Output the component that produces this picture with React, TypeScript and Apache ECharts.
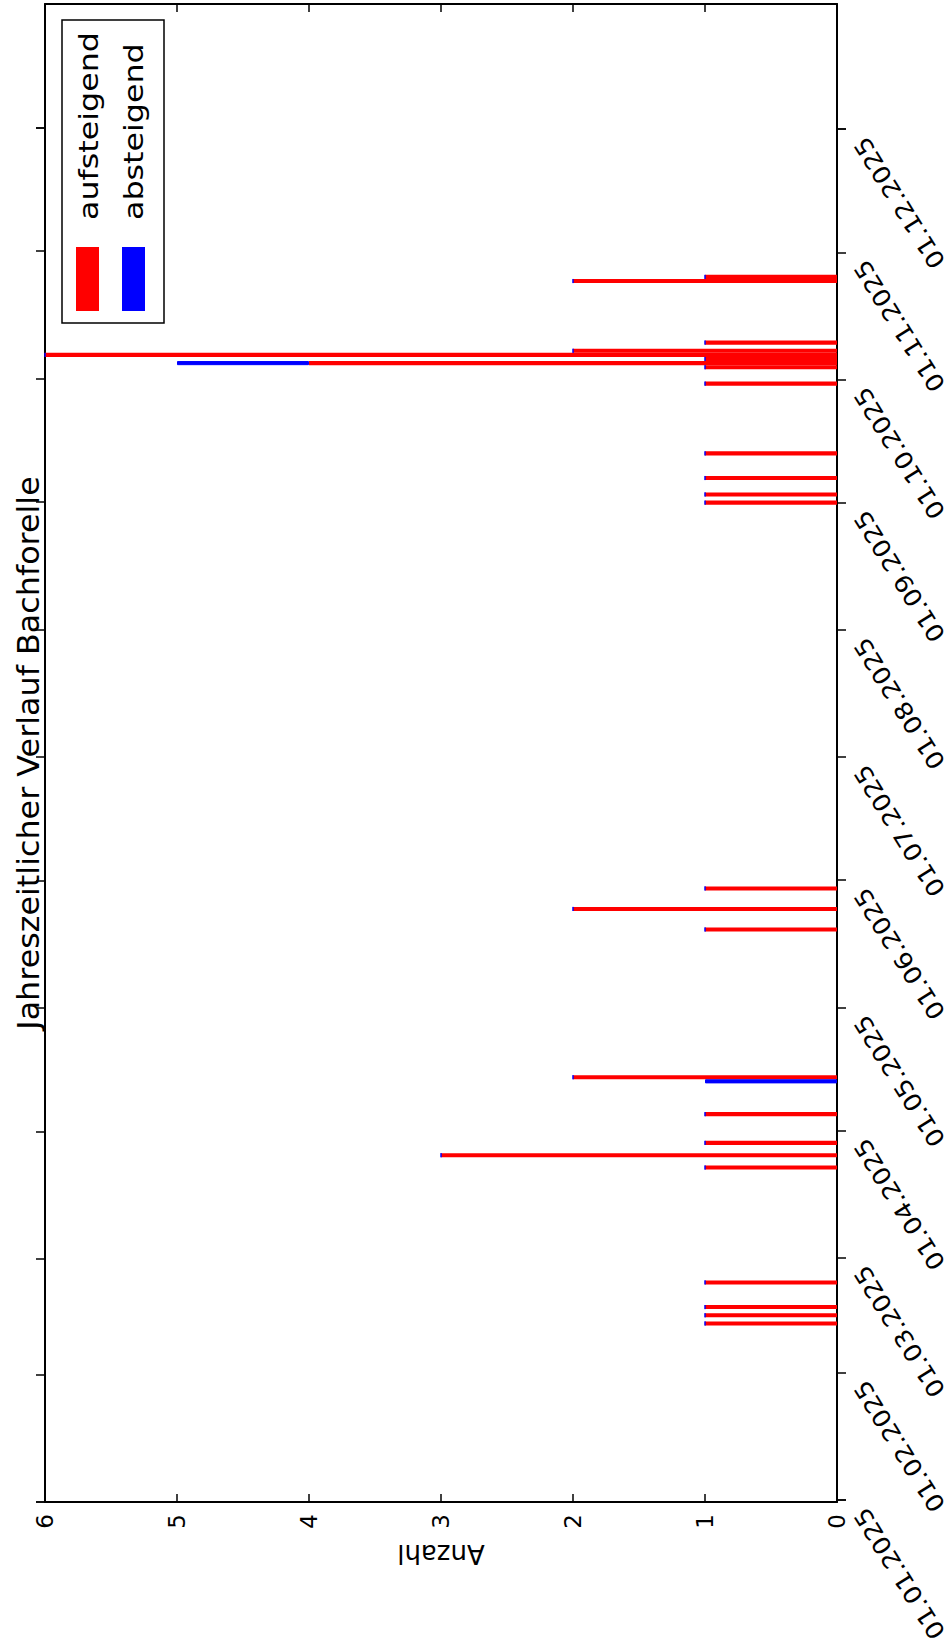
import React, { useEffect, useRef } from 'react';
import * as echarts from 'echarts';

const FONT = 'DejaVu Sans';

// Dates of the observations (one bar per day)
const dates = [
  '2025-02-13', '2025-02-15', '2025-02-17', '2025-02-23',
  '2025-03-23', '2025-03-26', '2025-03-29', '2025-04-05', '2025-04-13', '2025-04-14',
  '2025-05-20', '2025-05-25', '2025-05-30',
  '2025-09-01', '2025-09-03', '2025-09-07', '2025-09-13', '2025-09-30',
  '2025-10-04', '2025-10-05', '2025-10-06', '2025-10-07', '2025-10-08', '2025-10-10',
  '2025-10-25', '2025-10-26',
];
const aufsteigend = [1, 1, 1, 1, 1, 3, 1, 1, 0, 2, 1, 2, 1, 1, 1, 1, 1, 1, 1, 4, 1, 6, 2, 1, 2, 1];
const absteigend = [0, 0, 0, 0, 0, 0, 0, 0, 1, 0, 0, 0, 0, 0, 0, 0, 0, 0, 0, 1, 0, 0, 0, 0, 0, 0];

const monthTicks = [
  '2025-01-01', '2025-02-01', '2025-03-01', '2025-04-01', '2025-05-01', '2025-06-01',
  '2025-07-01', '2025-08-01', '2025-09-01', '2025-10-01', '2025-11-01', '2025-12-01',
];
const axisStart = '2025-01-01';
const axisEnd = '2025-12-31';
const countMin = 0;
const countMax = 6;
const countStep = 1;

const titleText = 'Jahreszeitlicher Verlauf Bachforelle';
const axisName = 'Anzahl';
const legendNames = ['aufsteigend', 'absteigend'];
const colors = ['#ff0000', '#0000ff'];

function ts(s: string): number {
  const [y, m, d] = s.split('-').map(Number);
  return new Date(y, m - 1, d).getTime();
}
function fmt(s: string): string {
  const [y, m, d] = s.split('-');
  return `${d}.${m}.${y}`;
}

export default function App() {
  const ref = useRef<HTMLDivElement>(null);
  useEffect(() => {
    const chart = echarts.init(ref.current!, null, { renderer: 'svg' });
    const lineStyle = { color: '#000', width: 2 };
    const tickStyle = { color: '#000', width: 1.5 };
    const monthTs = monthTicks.map(ts);
    const valueAxisBase = {
      type: 'value',
      inverse: true,
      min: countMin,
      max: countMax,
      interval: countStep,
      splitLine: { show: false },
      axisLine: { show: true, onZero: false, lineStyle },
      axisTick: { show: true, inside: true, length: 8, lineStyle: tickStyle },
    };
    const timeAxisBase = {
      type: 'time',
      min: ts(axisStart),
      max: ts(axisEnd),
      minInterval: 28 * 86400000,
      maxInterval: 31 * 86400000,
      splitLine: { show: false },
      axisLine: { show: true, onZero: false, lineStyle },
      axisTick: { show: true, inside: false, length: 9, lineStyle: tickStyle, customValues: monthTs },
      axisLabel: { show: false },
    };
    const option: any = {
      animation: false,
      backgroundColor: '#fff',
      textStyle: { fontFamily: FONT },
      grid: { left: 45, right: 115, top: 4, bottom: 147, containLabel: false, outerBoundsMode: 'none' },
      xAxis: [
        {
          ...valueAxisBase,
          position: 'bottom',
          axisLabel: { show: true, rotate: 90, fontSize: 23, color: '#000', fontFamily: FONT, margin: 12 },
        },
        {
          ...valueAxisBase,
          position: 'top',
          axisLabel: { show: false },
        },
      ],
      yAxis: [
        { ...timeAxisBase, position: 'right' },
        { ...timeAxisBase, position: 'left' },
      ],
      series: [
        {
          type: 'bar',
          name: legendNames[0],
          stack: 'total',
          xAxisIndex: 0,
          yAxisIndex: 0,
          barWidth: 4.1,
          itemStyle: { color: colors[0] },
          data: dates.map((d, i) => [aufsteigend[i], ts(d)]),
        },
        {
          type: 'bar',
          name: legendNames[1],
          stack: 'total',
          xAxisIndex: 0,
          yAxisIndex: 0,
          barWidth: 4.1,
          itemStyle: { color: colors[1], borderColor: colors[1], borderWidth: 1 },
          data: dates.map((d, i) => [absteigend[i], ts(d)]),
        },
      ],
    };
    chart.setOption(option);

    const xZero = chart.convertToPixel({ xAxisIndex: 0 }, countMin) as number;
    const xFull = chart.convertToPixel({ xAxisIndex: 0 }, countMax) as number;
    const yTop = chart.convertToPixel({ yAxisIndex: 0 }, ts(axisEnd)) as number;
    const yBottom = chart.convertToPixel({ yAxisIndex: 0 }, ts(axisStart)) as number;

    const dateLabels = monthTicks.map((m) => {
      const y = chart.convertToPixel({ yAxisIndex: 0 }, ts(m)) as number;
      return {
        type: 'text',
        x: xZero + 23,
        y: y + 10,
        rotation: (122 * Math.PI) / 180,
        scaleX: 1.09,
        style: {
          text: fmt(m),
          fontSize: 24,
          fontFamily: FONT,
          fill: '#000',
          align: 'right',
          verticalAlign: 'middle',
        },
      };
    });

    const graphics: any[] = [
      {
        type: 'text',
        x: 28,
        y: (yTop + yBottom) / 2,
        rotation: Math.PI / 2,
        scaleX: 1.06,
        style: { text: titleText, fontSize: 30, fontFamily: FONT, fill: '#000', align: 'center', verticalAlign: 'middle' },
      },
      {
        type: 'text',
        x: (xZero + xFull) / 2,
        y: 1554,
        rotation: Math.PI,
        style: { text: axisName, fontSize: 26, fontFamily: FONT, fill: '#000', align: 'center', verticalAlign: 'middle' },
      },
      {
        type: 'rect',
        shape: { x: 62, y: 20, width: 102, height: 303 },
        style: { fill: '#fff', stroke: '#000', lineWidth: 1.5 },
        z: 10,
      },
      { type: 'rect', shape: { x: 76, y: 247, width: 23, height: 64 }, style: { fill: colors[0] }, z: 11 },
      { type: 'rect', shape: { x: 122, y: 247, width: 23, height: 64 }, style: { fill: colors[1] }, z: 11 },
      {
        type: 'text',
        x: 89,
        y: 220,
        rotation: Math.PI / 2,
        scaleX: 1.22,
        z: 11,
        style: { text: legendNames[0], fontSize: 26, fontFamily: FONT, fill: '#000', align: 'left', verticalAlign: 'middle' },
      },
      {
        type: 'text',
        x: 134,
        y: 220,
        rotation: Math.PI / 2,
        scaleX: 1.22,
        z: 11,
        style: { text: legendNames[1], fontSize: 26, fontFamily: FONT, fill: '#000', align: 'left', verticalAlign: 'middle' },
      },
      ...dateLabels,
    ];
    chart.setOption({ graphic: { elements: graphics } });

    return () => chart.dispose();
  }, []);
  return (
    <div
      ref={ref}
      style={{ position: 'fixed', left: 0, top: 0, width: 952, height: 1649, background: '#fff' }}
    />
  );
}
